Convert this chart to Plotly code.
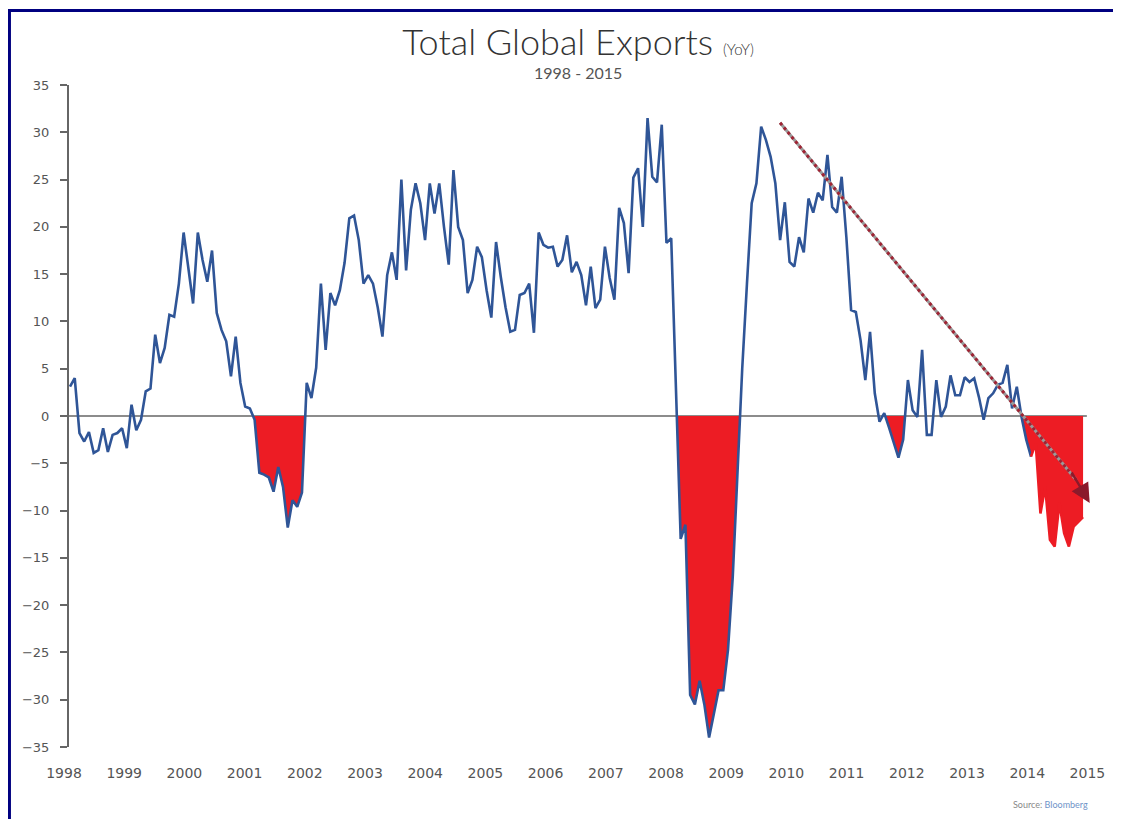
import numpy as np
import plotly.graph_objects as go

# ---------------- data (monthly YoY %, Jan 1998 onward) ----------------
values = [
    # 1998
    3.1, 4.0, -1.8, -2.7, -1.7, -3.9, -3.6, -1.3, -3.8, -2.0, -1.8, -1.3,
    # 1999
    -3.4, 1.2, -1.5, -0.4, 2.6, 2.9, 8.6, 5.6, 7.2, 10.7, 10.5, 14.0,
    # 2000
    19.4, 15.4, 11.9, 19.4, 16.5, 14.2, 17.5, 10.9, 9.1, 7.9, 4.2, 8.4,
    # 2001
    3.5, 1.0, 0.8, -0.4, -6.0, -6.2, -6.5, -8.0, -5.4, -7.5, -11.8, -8.9,
    # 2002
    -9.6, -8.1, 3.5, 1.9, 5.1, 14.0, 7.0, 13.0, 11.7, 13.3, 16.2, 20.9,
    # 2003
    21.2, 18.6, 14.0, 14.9, 14.0, 11.5, 8.4, 14.9, 17.3, 14.4, 25.0, 15.4,
    # 2004
    21.8, 24.6, 22.5, 18.6, 24.6, 21.4, 24.6, 20.0, 16.0, 26.0, 20.0, 18.6,
    # 2005
    13.0, 14.4, 17.9, 16.8, 13.3, 10.4, 18.4, 14.7, 11.5, 8.9, 9.1, 12.8,
    # 2006
    13.0, 14.0, 8.8, 19.4, 18.1, 17.8, 17.9, 15.8, 16.5, 19.1, 15.2, 16.3,
    # 2007
    14.9, 11.7, 15.8, 11.4, 12.3, 17.9, 14.6, 12.3, 22.0, 20.4, 15.1, 25.2,
    # 2008
    26.2, 20.0, 31.5, 25.3, 24.7, 30.8, 18.3, 18.8, 4.0, -13.0, -11.5, -29.5,
    # 2009
    -30.5, -28.0, -30.5, -34.0, -31.5, -29.0, -29.0, -24.7, -17.0, -6.0, 5.0, 14.0,
    # 2010
    22.5, 24.6, 30.6, 29.2, 27.4, 24.6, 18.6, 22.6, 16.3, 15.8, 18.9, 17.3,
    # 2011
    23.0, 21.5, 23.6, 22.8, 27.6, 22.1, 21.5, 25.3, 18.9, 11.2, 11.0, 8.0,
    # 2012
    3.8, 8.9, 2.4, -0.6, 0.3, -1.2, -2.9, -4.4, -2.5, 3.8, 0.6, -0.1,
    # 2013
    7.0, -2.0, -2.0, 3.8, -0.1, 1.0, 4.3, 2.2, 2.2, 4.1, 3.6, 4.0,
    # 2014
    2.0, -0.4, 1.9, 2.4, 3.3, 3.5, 5.4, 0.8, 3.1, -0.1, -2.5, -4.3,
    # 2015
    -2.9, -10.3, -7.5, -13.1, -13.8, -9.2, -12.4, -13.8, -11.7, -11.2, -10.7,
]

# shaded (red) contraction episodes, as month-index ranges
shaded_ranges = [(38, 50), (128, 142), (172, 177), (200, 214)]

# tick labels on the x axis
year_labels = ["1998", "1999", "2000", "2001", "2002", "2003", "2004", "2005", "2006",
               "2007", "2008", "2009", "2010", "2011", "2012", "2013", "2014", "2015"]

title_text = "Total Global Exports"
title_suffix = "(YoY)"
subtitle_text = "1998 - 2015"
source_label = "Source:"
source_name = "Bloomberg"

# trend arrow (data units: month index, %)
arrow_start = (150.0, 31.0)
arrow_line_end = (212.6, -6.8)
arrow_tip = (215.4, -9.2)

# ---------------- styling / layout constants ----------------
W, H = 1121, 819
M_L, M_R, M_T, M_B = 42, 34, 77, 80
X_RANGE = [-4.225, 216.52]
Y_AXIS_POS = 0.01722
FIRST_LABEL_POS, LABEL_STEP = -1.27, 12.717
BLUE = "#2F5597"
RED = "#ED1C24"
AXIS_GREY = "#666666"
TEXT_GREY = "#555555"

x = np.arange(len(values))
split_idx = 203  # after this point the line is drawn in red


def negative_segment(i0, i1):
    xs, ys = [], []
    for i in range(i0, i1 + 1):
        v = values[i]
        if i > i0:
            pv = values[i - 1]
            if (pv < 0) != (v < 0):
                t = pv / (pv - v)
                xs.append(i - 1 + t)
                ys.append(0.0)
        xs.append(float(i))
        ys.append(min(v, 0.0))
    return xs, ys


fig = go.Figure()

for (i0, i1) in shaded_ranges:
    xs, ys = negative_segment(i0, i1)
    fig.add_trace(go.Scatter(x=xs, y=ys, mode="lines", fill="tozeroy",
                             fillcolor=RED, line=dict(width=0, color=RED),
                             hoverinfo="skip", showlegend=False))

fig.add_trace(go.Scatter(x=x[:split_idx + 1], y=values[:split_idx + 1], mode="lines",
                         line=dict(color=BLUE, width=2.6), showlegend=False))
fig.add_trace(go.Scatter(x=x[split_idx:], y=values[split_idx:], mode="lines",
                         line=dict(color=RED, width=2.6), showlegend=False))

# zero line
fig.add_shape(type="line", xref="x", yref="y", x0=x[0] - 0.42, x1=x[-1] + 0.8, y0=0, y1=0,
              line=dict(color=AXIS_GREY, width=1.5), layer="below")

# dotted trend arrow
fig.add_shape(type="line", xref="x", yref="y",
              x0=arrow_start[0], y0=arrow_start[1], x1=arrow_line_end[0], y1=arrow_line_end[1],
              line=dict(color="#9a9a9a", width=3))
fig.add_shape(type="line", xref="x", yref="y",
              x0=arrow_start[0], y0=arrow_start[1], x1=arrow_line_end[0], y1=arrow_line_end[1],
              line=dict(color="#A02333", width=3, dash="dot"))
fig.add_annotation(x=arrow_tip[0], y=arrow_tip[1], ax=arrow_line_end[0] - 1.2, ay=arrow_line_end[1] + 1.0,
                   xref="x", yref="y", axref="x", ayref="y", text="", showarrow=True,
                   arrowhead=2, arrowsize=1.6, arrowwidth=2.4, arrowcolor="#8B1A2B")

# frame
fig.add_shape(type="rect", xref="paper", yref="paper",
              x0=-0.0388, y0=-0.14, x1=1.05, y1=1.1125,
              line=dict(color="#000080", width=3), fillcolor="rgba(0,0,0,0)")

# subtitle + source
fig.add_annotation(text=subtitle_text, xref="paper", yref="paper", x=0.5053, y=1.0196,
                   xanchor="center", yanchor="middle", showarrow=False,
                   font=dict(family="Lato", size=16, color=TEXT_GREY))
fig.add_annotation(text=f"{source_label} <span style='color:#7093c8'>{source_name}</span>",
                   xref="paper", yref="paper", x=0.9952, y=-0.0876,
                   xanchor="right", yanchor="middle", showarrow=False,
                   font=dict(family="Lato", size=9, color="#888888"))

tickvals = [FIRST_LABEL_POS + k * LABEL_STEP for k in range(len(year_labels))]

fig.update_layout(
    width=W, height=H,
    margin=dict(l=M_L, r=M_R, t=M_T, b=M_B),
    paper_bgcolor="white", plot_bgcolor="white",
    title=dict(text=f"{title_text} <span style='font-size:15px'>{title_suffix}</span>",
               x=0.5085, y=0.9585, xref="container", yref="container",
               xanchor="center", yanchor="middle",
               font=dict(family="Lato", size=36, color="#333333", weight=300)),
    xaxis=dict(range=X_RANGE, showgrid=False, zeroline=False, showline=False, ticks="",
               tickmode="array", tickvals=tickvals, ticktext=year_labels,
               tickfont=dict(family="DejaVu Sans", size=14, color=TEXT_GREY),
               ticklabelstandoff=16, fixedrange=True),
    yaxis=dict(range=[-35, 35], dtick=5, tick0=0, showgrid=False, zeroline=False,
               showline=True, linecolor=AXIS_GREY, linewidth=2,
               ticks="outside", ticklen=7, tickwidth=2, tickcolor=AXIS_GREY,
               anchor="free", position=Y_AXIS_POS,
               tickfont=dict(family="DejaVu Sans", size=13, color=TEXT_GREY),
               ticklabelstandoff=8, fixedrange=True),
    showlegend=False,
)

fig.write_html("out.html")
